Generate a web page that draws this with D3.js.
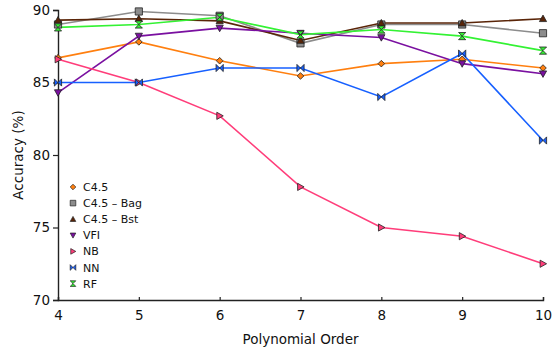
<!DOCTYPE html>
<html>
<head>
<meta charset="utf-8">
<script src="https://cdn.jsdelivr.net/npm/d3@7"></script>
<style>
  html, body { margin: 0; padding: 0; background: #fff; }
  svg { display: block; font-family: "DejaVu Sans", sans-serif; }
</style>
</head>
<body>
<svg id="chart" width="553" height="351"></svg>
<script>
// Polynomial order on the x axis
const orders = [4, 5, 6, 7, 8, 9, 10];

// Accuracy (%) for each classifier
const c45    = [86.7, 87.8, 86.5, 85.45, 86.3, 86.6, 86.0];
const c45Bag = [89.0, 89.9, 89.6, 87.7, 89.0, 89.0, 88.4];
const c45Bst = [89.3, 89.4, 89.25, 87.9, 89.1, 89.1, 89.4];
const vfi    = [84.3, 88.2, 88.75, 88.4, 88.1, 86.3, 85.6];
const nb     = [86.6, 85.0, 82.7, 77.8, 75.0, 74.4, 72.5];
const nn     = [85.0, 85.0, 86.0, 86.0, 84.0, 87.0, 81.0];
const rf     = [88.8, 89.0, 89.5, 88.3, 88.65, 88.2, 87.2];

const seriesNames = ["C4.5", "C4.5 \u2013 Bag", "C4.5 \u2013 Bst", "VFI", "NB", "NN", "RF"];
const seriesValues = [c45, c45Bag, c45Bst, vfi, nb, nn, rf];
const seriesColors = ["#ff7f0f", "#8c8c8c", "#5a2508", "#7a10a0", "#ff3d7a", "#1760ff", "#33f233"];
const seriesMarkers = ["diamond", "square", "up", "down", "right", "bowtie", "hourglass"];

const yTicks = [70, 75, 80, 85, 90];

const svg = d3.select("#chart");
const x = d3.scaleLinear().domain([4, 10]).range([58, 543]);
const y = d3.scaleLinear().domain([70, 90]).range([300, 10]);

// Axes
const yAxis = svg.append("g").attr("transform", `translate(${x(4)},0)`)
  .call(d3.axisLeft(y).tickValues(yTicks).tickFormat(d3.format("d")).tickSize(5).tickPadding(3));
const xAxis = svg.append("g").attr("transform", `translate(0,${y(70)})`)
  .call(d3.axisBottom(x).tickValues(orders).tickFormat(d3.format("d")).tickSize(-3).tickPadding(10));
[yAxis, xAxis].forEach(g => {
  g.select(".domain").attr("stroke", "#222").attr("stroke-width", 1.4);
  g.selectAll(".tick line").attr("stroke", "#222").attr("stroke-width", 1.2);
  g.selectAll(".tick text").attr("fill", "#111").style("font-size", "13.5px")
    .style("font-family", "DejaVu Sans, sans-serif");
});
xAxis.selectAll(".tick text").attr("dy", "0.71em");

// Axis titles
svg.append("text").attr("x", x(7)).attr("y", 344).attr("text-anchor", "middle")
  .style("font-size", "13.5px").attr("fill", "#111").text("Polynomial Order");
svg.append("text").attr("transform", `translate(23,${y(80)}) rotate(-90)`)
  .attr("text-anchor", "middle").style("font-size", "13.5px").attr("fill", "#111")
  .text("Accuracy (%)");

// Marker shapes, drawn centred on the origin
function markerPath(kind, s) {
  switch (kind) {
    case "diamond": return `M0,${-s}L${s},0L0,${s}L${-s},0Z`;
    case "square": return `M${-s},${-s}H${s}V${s}H${-s}Z`;
    case "up": return `M0,${-s}L${s},${s*0.8}L${-s},${s*0.8}Z`;
    case "down": return `M0,${s}L${s},${-s*0.8}L${-s},${-s*0.8}Z`;
    case "right": return `M${s},0L${-s*0.8},${-s}L${-s*0.8},${s}Z`;
    case "bowtie": return `M${-s},${-s}L0,0L${-s},${s}Z M${s},${-s}L0,0L${s},${s}Z`;
    case "hourglass": return `M${-s},${-s}L${s},${-s}L0,0Z M${-s},${s}L${s},${s}L0,0Z`;
  }
}
const markerSize = { diamond: 3.3, square: 3.6, up: 3.6, down: 3.6, right: 3.6, bowtie: 3.6, hourglass: 3.6 };

const line = d3.line().x((d, i) => x(orders[i])).y(d => y(d));

const plot = svg.append("g");
seriesValues.forEach((vals, k) => {
  plot.append("path").datum(vals).attr("d", line)
    .attr("fill", "none").attr("stroke", seriesColors[k]).attr("stroke-width", 1.6);
});
seriesValues.forEach((vals, k) => {
  plot.selectAll(null).data(vals).enter().append("path")
    .attr("transform", (d, i) => `translate(${x(orders[i])},${y(d)})`)
    .attr("d", markerPath(seriesMarkers[k], markerSize[seriesMarkers[k]]))
    .attr("fill", seriesColors[k]).attr("stroke", "#222").attr("stroke-width", 0.8);
});

// Legend
const legend = svg.append("g").attr("transform", "translate(73,187)");
seriesNames.forEach((name, k) => {
  const row = legend.append("g").attr("transform", `translate(0,${k * 16.1})`);
  row.append("path").attr("d", markerPath(seriesMarkers[k], 2.8))
    .attr("fill", seriesColors[k]).attr("stroke", "#222").attr("stroke-width", 0.7);
  row.append("text").attr("x", 10).attr("y", 4).style("font-size", "11px")
    .attr("fill", "#111").text(name);
});
</script>
</body>
</html>
